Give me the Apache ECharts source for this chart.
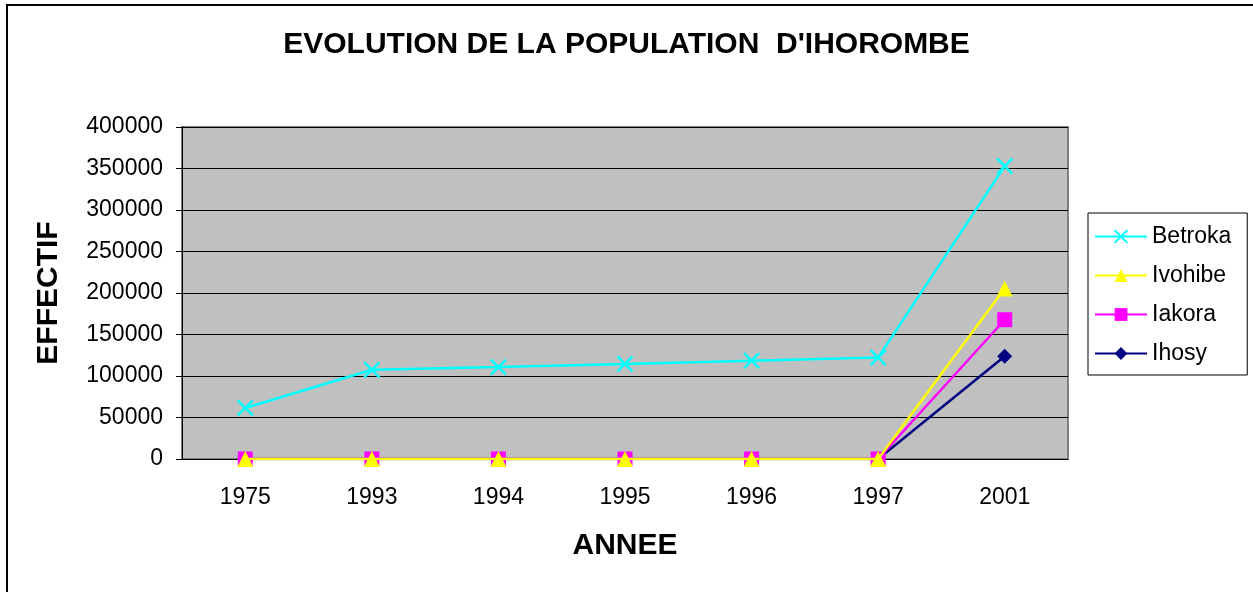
<!DOCTYPE html>
<html>
<head>
<meta charset="utf-8">
<script src="https://cdn.jsdelivr.net/npm/echarts@6/dist/echarts.min.js"></script>
<style>
  html, body { margin: 0; padding: 0; background: #fff; }
  #chart { width: 1253px; height: 592px; }
</style>
</head>
<body>
<div id="chart"></div>
<script>
// données
const annees = ['1975', '1993', '1994', '1995', '1996', '1997', '2001']
const betroka = [61500, 107500, 110800, 114500, 118500, 122200, 353000]
const ivohibe = [0, 0, 0, 0, 0, 0, 205500]
const iakora = [0, 0, 0, 0, 0, 0, 167800]
const ihosy = [0, 0, 0, 0, 0, 0, 123800]

const FONT = '"Liberation Sans", Arial, sans-serif'
const crossPath = 'path://M0,0L10,10M10,0L0,10'

const chart = echarts.init(document.getElementById('chart'))

const serie = (name, data, color, symbol, size, z) => ({
  name,
  type: 'line',
  data,
  z,
  symbol,
  symbolSize: size,
  showAllSymbol: true,
  lineStyle: { color, width: 2.5 },
  itemStyle: { color, borderColor: color, borderWidth: symbol === crossPath ? 2.5 : 0 },
  emphasis: { disabled: true },
  animation: false
})

chart.setOption({
  animation: false,
  textStyle: { fontFamily: FONT },
  title: {
    text: "EVOLUTION DE LA POPULATION  D'IHOROMBE",
    left: 'center',
    top: 25,
    textStyle: { fontFamily: FONT, fontSize: 30, fontWeight: 'bold', color: '#000' }
  },
  graphic: [{
    type: 'rect',
    shape: { x: 7, y: 5, width: 1400, height: 800 },
    style: { fill: 'none', stroke: '#000', lineWidth: 2 },
    silent: true
  }],
  legend: {
    orient: 'vertical',
    left: 1088,
    top: 213,
    padding: [12, 16, 10, 6],
    backgroundColor: '#fff',
    borderColor: '#000',
    borderWidth: 1,
    itemWidth: 52,
    itemHeight: 16,
    itemGap: 16,
    textStyle: { fontFamily: FONT, fontSize: 23, color: '#000' },
    data: ['Betroka', 'Ivohibe', 'Iakora', 'Ihosy']
  },
  grid: {
    left: 182,
    right: 185,
    top: 127,
    bottom: 133,
    show: true,
    backgroundColor: '#c0c0c0',
    borderColor: '#808080',
    borderWidth: 2
  },
  xAxis: {
    type: 'category',
    data: annees,
    boundaryGap: true,
    name: 'ANNEE',
    nameLocation: 'middle',
    nameGap: 72,
    nameTextStyle: { fontFamily: FONT, fontSize: 30, fontWeight: 'bold', color: '#000' },
    axisLine: { lineStyle: { color: '#000', width: 1 } },
    axisTick: { length: 6, lineStyle: { color: '#000' } },
    axisLabel: { fontFamily: FONT, fontSize: 23, color: '#000', margin: 27 }
  },
  yAxis: {
    type: 'value',
    min: 0,
    max: 400000,
    interval: 50000,
    name: 'EFFECTIF',
    nameLocation: 'middle',
    nameGap: 118,
    nameTextStyle: { fontFamily: FONT, fontSize: 30, fontWeight: 'bold', color: '#000' },
    axisLine: { show: true, lineStyle: { color: '#000', width: 1 } },
    axisTick: { show: true, length: 6, lineStyle: { color: '#000' } },
    axisLabel: { fontFamily: FONT, fontSize: 23, color: '#000', margin: 19, formatter: v => String(v) },
    splitLine: { lineStyle: { color: '#000', width: 1 } }
  },
  series: [
    serie('Betroka', betroka, '#00ffff', crossPath, 15, 5),
    serie('Ivohibe', ivohibe, '#ffff00', 'triangle', 16, 4),
    serie('Iakora', iakora, '#ff00ff', 'rect', 15, 3),
    serie('Ihosy', ihosy, '#000080', 'diamond', 15, 2)
  ]
})
</script>
</body>
</html>
